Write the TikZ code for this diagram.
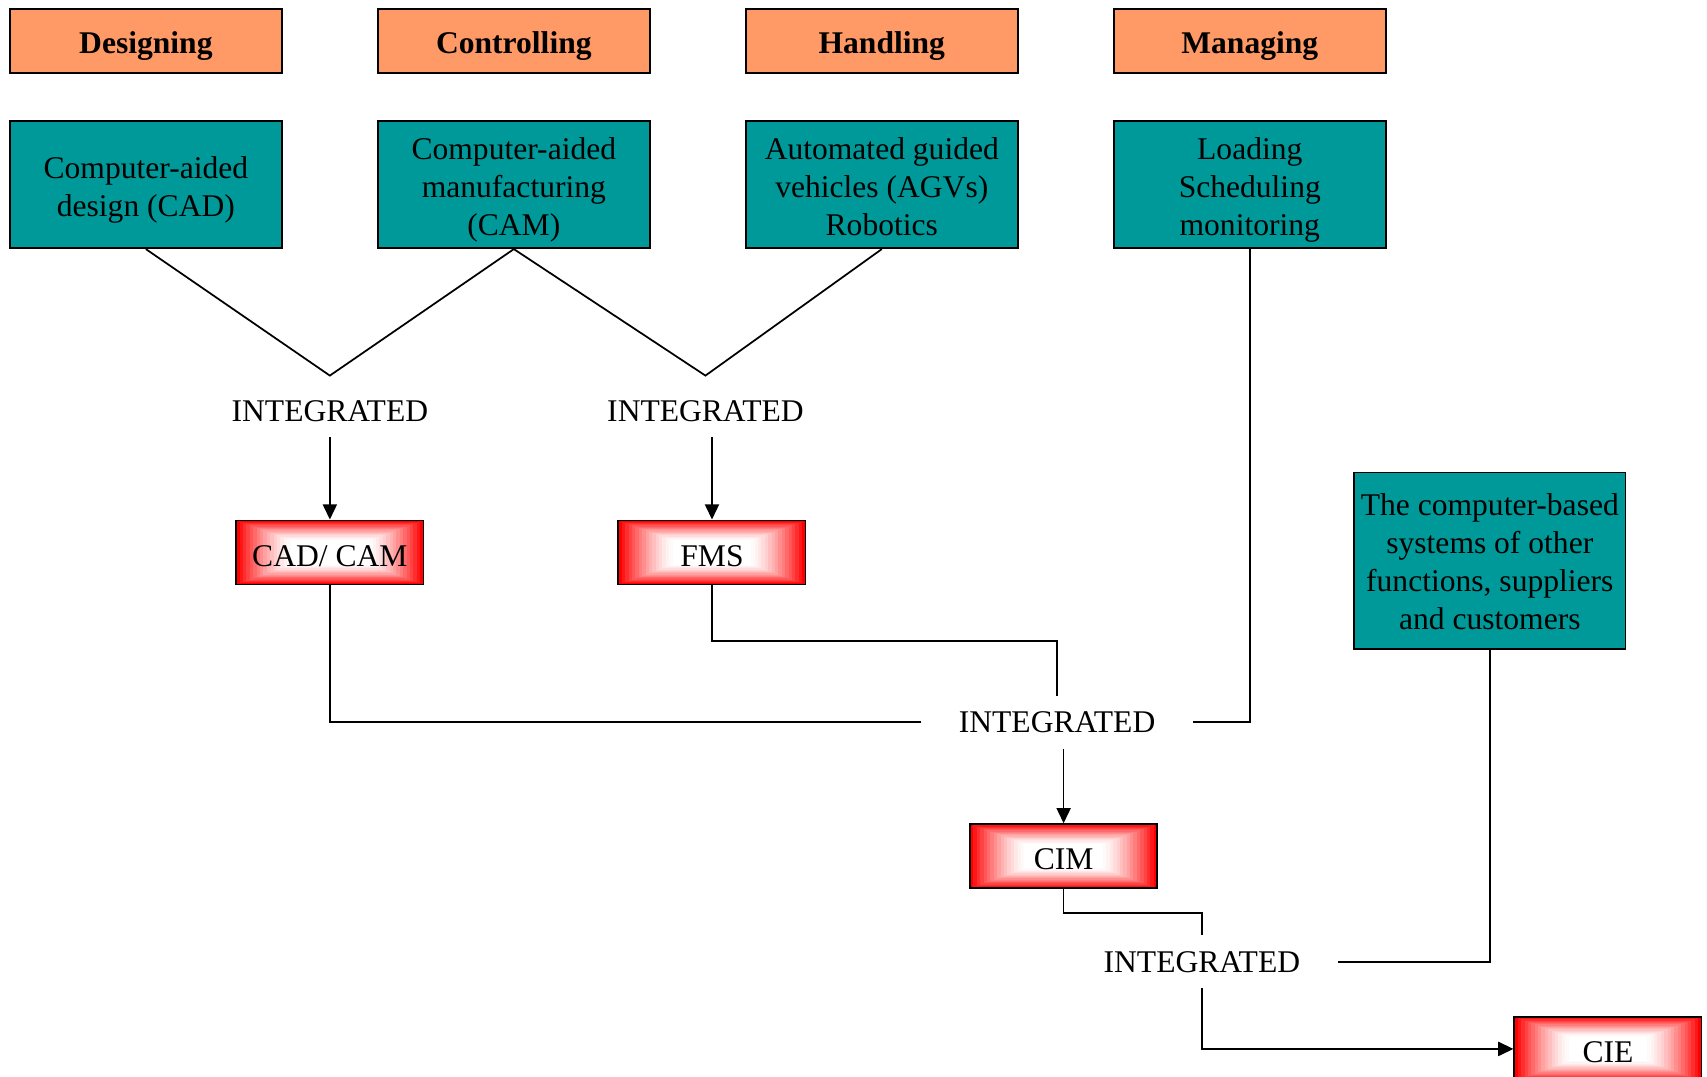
\documentclass[tikz,border=0pt]{standalone}
\usepackage{fontspec}
\setmainfont{Liberation Serif}
\usetikzlibrary{calc,arrows.meta}
\definecolor{hdrfill}{RGB}{255,153,102}
\definecolor{tealfill}{RGB}{0,153,153}
% box text: centred lines on a fixed 35pt pitch, set a little below the box centre
\newcommand\boxtext[2][5pt]{\raisebox{-#1}[\height][\depth]{\begin{tabular}{@{}c@{}}#2\end{tabular}}}

\begin{document}
\begin{tikzpicture}[x=1pt,y=-1pt,
  every node/.style={font=\fontsize{29}{35}\selectfont, inner sep=0pt},
  header/.style={draw=black, line width=1.6pt, fill=hdrfill,
    minimum width=250pt, minimum height=59pt,
    font=\fontsize{29}{35}\selectfont\bfseries},
  tealbox/.style={draw=black, line width=1.6pt, fill=tealfill,
    minimum width=250pt, minimum height=117pt},
  % red box with a stepped rectangular gradient towards a white centre
  redbox/.style={draw=black, line width=1.6pt,
    minimum width=172pt, minimum height=59pt,
    path picture={
      \foreach \gk in {0,...,16}{
        \pgfmathsetmacro\gx{86*(1-0.58*\gk/16)}
        \pgfmathsetmacro\gy{29.5*(1-0.62*\gk/16)}
        \pgfmathtruncatemacro\gc{100*(1-\gk/16)^1.4}
        \fill[red!\gc!white]
          ([xshift=-\gx pt,yshift=-\gy pt]path picture bounding box.center)
          rectangle
          ([xshift=\gx pt,yshift=\gy pt]path picture bounding box.center);
      }
    }},
  joiner/.style={minimum width=250pt, minimum height=48pt},
  link/.style={line width=1.6pt},
  arrowlink/.style={line width=1.6pt, -{Triangle[length=14pt,width=13pt]}}
]
\useasboundingbox (0,0) rectangle (1568,989);

% activity headers
\node[header] (hdes) at (134,37.5) {\boxtext[4.5pt]{Designing}};
\node[header] (hcon) at (472,37.5) {\boxtext[4.5pt]{Controlling}};
\node[header] (hhan) at (810,37.5) {\boxtext[4.5pt]{Handling}};
\node[header] (hman) at (1148,37.5) {\boxtext[4.5pt]{Managing}};

% computer-based systems
\node[tealbox] (cad) at (134,169.5) {\boxtext{Computer-aided\\design (CAD)}};
\node[tealbox] (cam) at (472,169.5) {\boxtext{Computer-aided\\manufacturing\\(CAM)}};
\node[tealbox] (agv) at (810,169.5) {\boxtext{Automated guided\\vehicles (AGVs)\\Robotics}};
\node[tealbox] (mng) at (1148,169.5) {\boxtext{Loading\\Scheduling\\monitoring}};
\node[tealbox, minimum width=249pt, minimum height=162pt] (other) at (1368.5,515)
  {\boxtext[4pt]{The computer-based\\systems of other\\functions, suppliers\\and customers}};

% integration points
\coordinate (v1) at (303,345);
\coordinate (v2) at (648,345);
\node[joiner] (int1) at (303,377.5) {INTEGRATED};
\node[joiner] (int2) at (648,377.5) {INTEGRATED};
\node[joiner] (int3) at (971,663.5) {INTEGRATED};
\node[joiner] (int4) at (1104,883.5) {INTEGRATED};

% integrated systems
\node[redbox] (cadcam) at (303,507.5) {\boxtext[5.5pt]{CAD/ CAM}};
\node[redbox] (fms) at (654,507.5) {\boxtext[5.5pt]{FMS}};
\node[redbox] (cim) at (977,786.5) {\boxtext[5.5pt]{CIM}};
\node[redbox] (cie) at (1477,963.5) {\boxtext[5.5pt]{CIE}};

% connectors
\draw[link] (cad.south) -- (v1) -- (cam.south);
\draw[link] (cam.south) -- (v2) -- (agv.south);
\draw[arrowlink] (int1.south) -- (cadcam.north);
\draw[arrowlink] (int2.south -| fms.north) -- (fms.north);
\draw[link] (cadcam.south) |- (int3.west);
\draw[link] (fms.south) -- ++(0,51) -| (int3.north);
\draw[link] (mng.south) |- (int3.east);
\draw[arrowlink] (int3.south -| cim.north) -- (cim.north);
\draw[link] (cim.south) -- ++(0,22) -| (int4.north);
\draw[link] (other.south) |- (int4.east);
\draw[arrowlink] (int4.south) |- (cie.west);
\end{tikzpicture}
\end{document}
